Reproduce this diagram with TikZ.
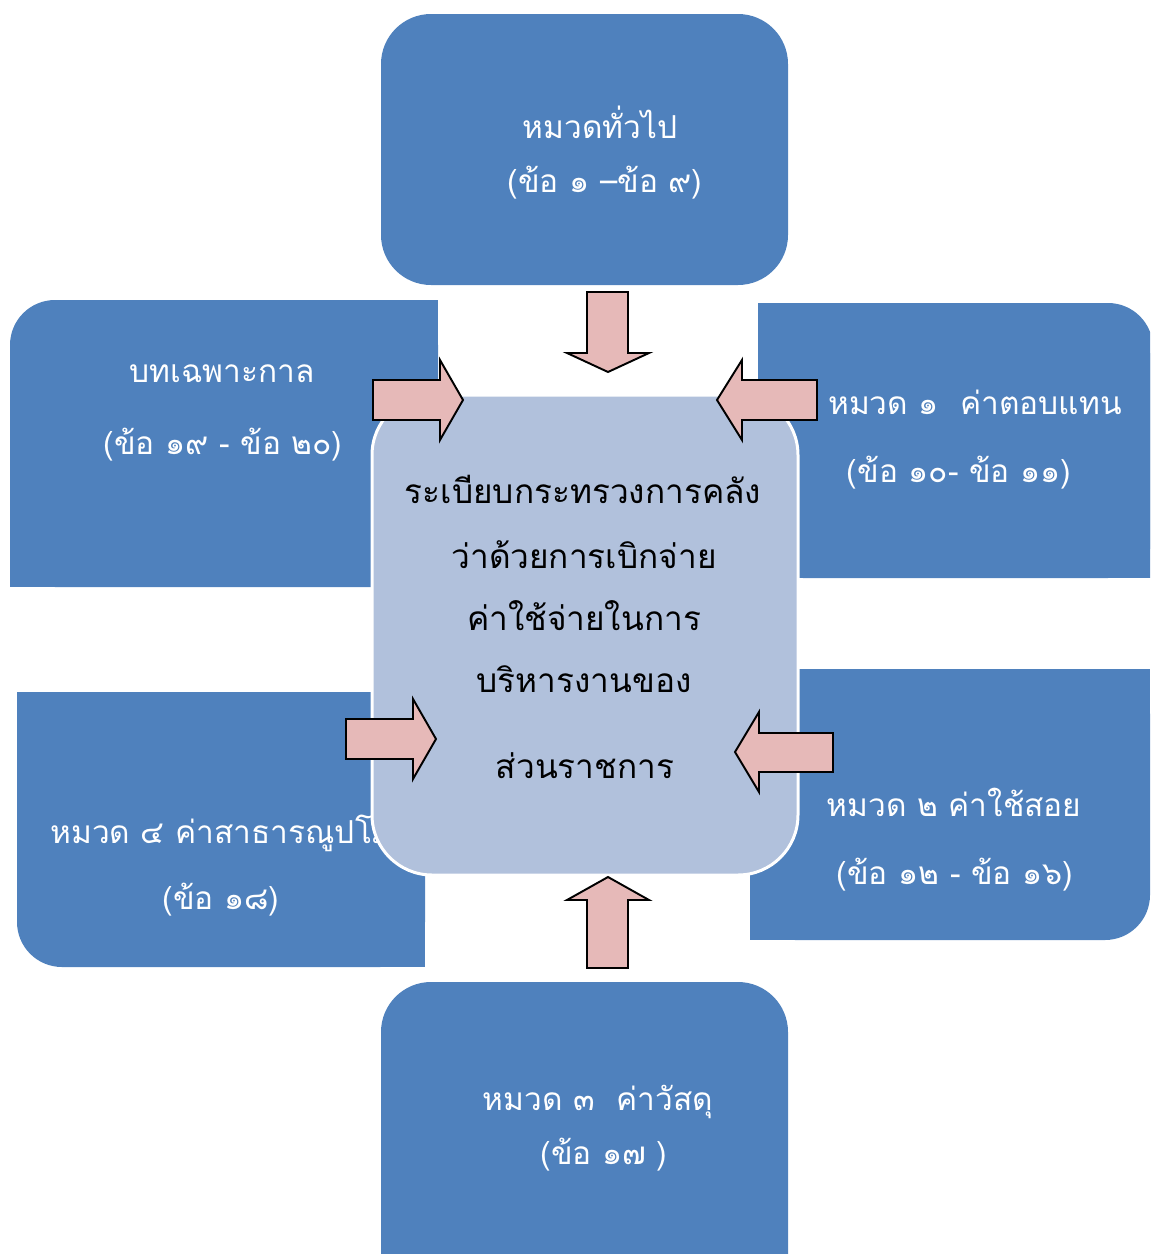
\documentclass[tikz,border=0pt]{standalone}
\usepackage{fontspec}
\newfontfamily\thaifont[Script=Thai]{Loma}
\definecolor{boxblue}{HTML}{4F81BD}
\definecolor{centerfill}{HTML}{B1C1DC}
\definecolor{arrowpink}{HTML}{E6B9B8}
\tikzset{
  sidebox/.style={fill=boxblue},
  sidetext/.style={text=white, font=\thaifont\fontsize{18}{22}\selectfont, anchor=base, inner sep=0pt},
  centertext/.style={text=black, font=\thaifont\fontsize{19}{23}\selectfont, anchor=base, inner sep=0pt},
  blockarrow/.style={fill=arrowpink, draw=black, line width=1.1pt, line join=miter},
  centerbox/.style={fill=centerfill, draw=white, line width=0.06cm, rounded corners=1.2cm},
}
\begin{document}
\begin{tikzpicture}[x=0.02cm,y=-0.02cm]
\useasboundingbox (0,0) rectangle (1150,1254);
\clip (0,0) rectangle (1150,1254);

% top box
\fill[sidebox, rounded corners=1cm] (381,14) rectangle (788,285);
% bottom box
\fill[sidebox, rounded corners=1cm] (381,982) rectangle (788,1320);
% left-top box (rounded top-left)
\fill[sidebox, rounded corners=0.9cm] (10,300) rectangle (438,587);
\fill[sidebox] (60,300) rectangle (438,587);
\fill[sidebox] (10,350) rectangle (438,587);
% right-top box (rounded top-right)
\fill[sidebox, rounded corners=0.9cm] (758,303) rectangle (1153,578);
\fill[sidebox] (758,303) rectangle (1100,578);
\fill[sidebox] (758,353) rectangle (1153,578);
% left-bottom box (rounded bottom-left)
\fill[sidebox, rounded corners=0.9cm] (17,692) rectangle (425,967);
\fill[sidebox] (67,692) rectangle (425,967);
\fill[sidebox] (17,692) rectangle (425,917);
% right-bottom box (rounded bottom-right)
\fill[sidebox, rounded corners=0.9cm] (750,669) rectangle (1150,940);
\fill[sidebox] (750,669) rectangle (1100,940);
\fill[sidebox] (750,669) rectangle (1150,890);

% side texts
\node[sidetext] (topA) at (600,138) {หมวดทั่วไป};
\node[sidetext] (topB) at (605,192) {(ข้อ ๑ –ข้อ ๙)};
\node[sidetext] (ltA) at (222,382) {บทเฉพาะกาล};
\node[sidetext] (ltB) at (223,454) {(ข้อ ๑๙ - ข้อ ๒๐)};
\node[sidetext] (rtA) at (975,414) {หมวด ๑\ \ ค่าตอบแทน};
\node[sidetext] (rtB) at (959,482) {(ข้อ ๑๐- ข้อ ๑๑)};
\node[sidetext, anchor=base west] (lbA) at (50,843) {หมวด ๔ ค่าสาธารณูปโภค};
\node[sidetext] (lbB) at (221,909) {(ข้อ ๑๘)};
\node[sidetext] (rbA) at (954,816) {หมวด ๒ ค่าใช้สอย};
\node[sidetext] (rbB) at (955,884) {(ข้อ ๑๒ - ข้อ ๑๖)};
\node[sidetext] (btA) at (598,1110) {หมวด ๓\ \ ค่าวัสดุ};
\node[sidetext] (btB) at (604,1164) {(ข้อ ๑๗ )};

% centre box
\draw[centerbox] (372,395) rectangle (798,875);
\node[centertext] (c1) at (583,503) {ระเบียบกระทรวงการคลัง};
\node[centertext] (c2) at (584,568) {ว่าด้วยการเบิกจ่าย};
\node[centertext] (c3) at (584,630) {ค่าใช้จ่ายในการ};
\node[centertext] (c4) at (584,692) {บริหารงานของ};
\node[centertext] (c5) at (585,778) {ส่วนราชการ};

% block arrows
\draw[blockarrow] (587,292) -- (628,292) -- (628,353) -- (649,353) -- (608,372) -- (567,353) -- (587,353) -- cycle;
\draw[blockarrow] (587,968) -- (628,968) -- (628,900) -- (649,900) -- (608,877) -- (567,900) -- (587,900) -- cycle;
\draw[blockarrow] (373,380) -- (440,380) -- (440,360) -- (463,400) -- (440,440) -- (440,420) -- (373,420) -- cycle;
\draw[blockarrow] (817,380) -- (742,380) -- (742,360) -- (717,400) -- (742,440) -- (742,420) -- (817,420) -- cycle;
\draw[blockarrow] (346,719) -- (413,719) -- (413,699) -- (436,739) -- (413,779) -- (413,759) -- (346,759) -- cycle;
\draw[blockarrow] (833,733) -- (759,733) -- (759,712) -- (735,752) -- (759,792) -- (759,772) -- (833,772) -- cycle;
\end{tikzpicture}
\end{document}
